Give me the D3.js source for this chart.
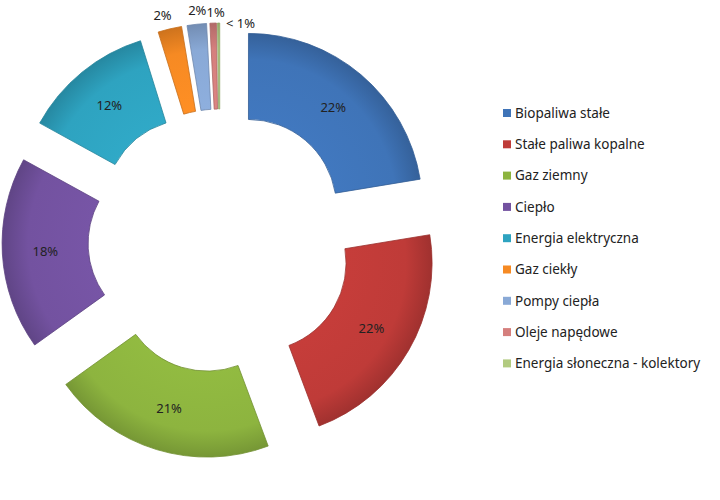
<!DOCTYPE html><html><head><meta charset="utf-8"><script src="https://cdn.jsdelivr.net/npm/d3@7"></script>
<style>body{margin:0;background:#fff}</style></head><body><svg id="c" width="720" height="500"></svg>
<script>
const categories=["Biopaliwa stałe","Stałe paliwa kopalne","Gaz ziemny","Ciepło","Energia elektryczna","Gaz ciekły","Pompy ciepła","Oleje napędowe","Energia słoneczna - kolektory"];
const values=[22.4,21.9,20.8,17.9,12.2,2.2,1.8,0.6,0.2];
const labels=["22%","22%","21%","18%","12%","2%","2%","1%","< 1%"];
const colors=["#3f74b8","#bf3b38","#8db43f","#7352a0","#2ea3c0","#f68a23","#89a9d6","#d57f7d","#b2cb80"];
const svg=d3.select("#c");
const cx=220,cy=241,R=174,r=88,off=44;
const defs=svg.append("defs");
colors.forEach((c,i)=>{const g=defs.append("radialGradient").attr("id","g"+i).attr("gradientUnits","userSpaceOnUse").attr("cx",0).attr("cy",0).attr("r",R);
g.append("stop").attr("offset","50%").attr("stop-color",d3.color(c).brighter(0.1));
g.append("stop").attr("offset","85%").attr("stop-color",c);
g.append("stop").attr("offset","100%").attr("stop-color",d3.color(c).darker(0.5));});
const pie=d3.pie().sort(null).value(d=>d)(values);
const arc=d3.arc().innerRadius(r).outerRadius(R);
const gg=svg.append("g");
pie.forEach((p,i)=>{const m=(p.startAngle+p.endAngle)/2;const ox=cx+Math.sin(m)*off,oy=cy-Math.cos(m)*off;
const g=gg.append("g").attr("transform",`translate(${ox},${oy})`);
g.append("path").attr("d",arc(p)).attr("fill",`url(#g${i})`).attr("stroke",d3.color(colors[i]).darker(0.6)).attr("stroke-width",0.8);
let tx,ty;
if(i<5){[tx,ty]=arc.centroid(p);}else{const rr=R+(i==8?12:14);tx=Math.sin(m)*rr;ty=-Math.cos(m)*rr;if(i==5)tx-=4;if(i==6)tx+=2;if(i==7){tx+=3;ty+=3;}if(i==8){tx+=22;ty+=12;}}
g.append("text").attr("x",tx).attr("y",ty).attr("text-anchor","middle").attr("dy","0.35em").attr("font-family","Noto Sans, sans-serif").attr("font-size",13).attr("fill","#222").text(labels[i]);});
const lg=svg.append("g");
categories.forEach((c,i)=>{const y=113+i*31.3;
lg.append("rect").attr("x",503).attr("y",y-4).attr("width",8).attr("height",8).attr("fill",colors[i]);
lg.append("text").attr("x",515).attr("y",y).attr("dy","0.35em").attr("font-family","Noto Sans, sans-serif").attr("font-size",13.5).attr("fill","#222").text(c);});
</script></body></html>
